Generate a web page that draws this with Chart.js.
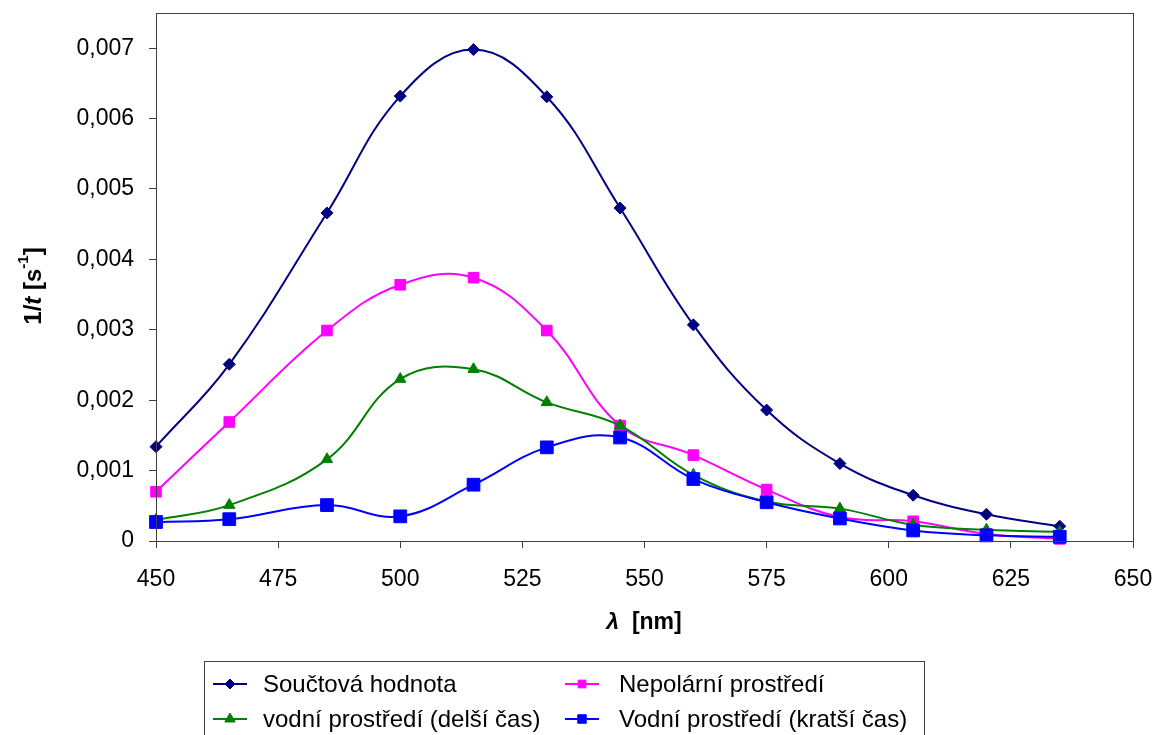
<!DOCTYPE html>
<html>
<head>
<meta charset="utf-8">
<style>
  html, body { margin: 0; padding: 0; background: #fff; }
  #wrap { width: 1160px; height: 735px; position: relative; }
</style>
<script src="https://cdn.jsdelivr.net/npm/chart.js@4/dist/chart.umd.min.js"></script>
</head>
<body>
<div id="wrap"><canvas id="chart" width="1160" height="735"></canvas></div>
<script>
(function() {
    'use strict';

    // Data
    const wavelengths = [450, 465, 485, 500, 515, 530, 545, 560, 575, 590, 605, 620, 635];
    const soucet = [0.00134, 0.00251, 0.00466, 0.00632, 0.00698, 0.00631, 0.00473, 0.00307, 0.00186, 0.00110, 0.00065, 0.00038, 0.00021];
    const nepolarni = [0.00070, 0.00169, 0.00299, 0.00364, 0.00374, 0.00299, 0.00164, 0.00122, 0.00073, 0.00034, 0.00028, 0.00010, 0.00003];
    const vodniDelsi = [0.00030, 0.00051, 0.00116, 0.00230, 0.00244, 0.00197, 0.00164, 0.00094, 0.00056, 0.00046, 0.00023, 0.00016, 0.00013];
    const vodniKratsi = [0.00027, 0.00031, 0.00051, 0.00035, 0.00080, 0.00133, 0.00147, 0.00088, 0.00055, 0.00032, 0.00015, 0.00008, 0.00006];
    const seriesNames = ['Součtová hodnota', 'Nepolární prostředí', 'vodní prostředí (delší čas)', 'Vodní prostředí (kratší čas)'];
    const yTickValues = [0, 0.001, 0.002, 0.003, 0.004, 0.005, 0.006, 0.007];

    const FONT = "'Liberation Sans', Arial, sans-serif";

    function series(label, values, color, style, radius, order) {
        return {
            label: label,
            data: wavelengths.map((x, i) => ({ x: x, y: values[i] })),
            borderColor: color,
            backgroundColor: color,
            borderWidth: 2,
            pointStyle: style,
            pointRadius: radius,
            pointBorderWidth: 1,
            pointBackgroundColor: color,
            pointBorderColor: color,
            showLine: true,
            tension: 0.4,
            clip: false,
            order: order
        };
    }

    const datasets = [
        series(seriesNames[0], soucet, '#000080', 'rectRot', 6, 3),
        series(seriesNames[1], nepolarni, '#ff00ff', 'rect', 7.5, 2),
        series(seriesNames[2], vodniDelsi, '#008000', 'triangle', 6.5, 1),
        series(seriesNames[3], vodniKratsi, '#0000ff', 'rect', 9, 0)
    ];

    // Plot frame, axis titles and the boxed legend
    const decorations = {
        id: 'decorations',
        afterDraw(chart) {
            const ctx = chart.ctx;
            const a = chart.chartArea;

            ctx.save();
            ctx.strokeStyle = '#404040';
            ctx.lineWidth = 1;
            ctx.strokeRect(a.left + 0.5, a.top + 0.5, a.right - a.left, a.bottom - a.top);
            ctx.restore();

            // x title
            ctx.save();
            ctx.fillStyle = '#000';
            ctx.textBaseline = 'middle';
            const lam = 'λ', rest = '  [nm]';
            ctx.font = 'italic bold 23px ' + FONT;
            const w1 = ctx.measureText(lam).width;
            ctx.font = 'bold 23px ' + FONT;
            const w2 = ctx.measureText(rest).width;
            let x0 = 644 - (w1 + w2) / 2;
            ctx.font = 'italic bold 23px ' + FONT;
            ctx.fillText(lam, x0, 623);
            ctx.font = 'bold 23px ' + FONT;
            ctx.fillText(rest, x0 + w1, 623);
            ctx.restore();

            // y title, rotated
            ctx.save();
            ctx.translate(34, 286);
            ctx.rotate(-Math.PI / 2);
            ctx.fillStyle = '#000';
            ctx.textBaseline = 'middle';
            const parts = [
                { t: '1/', f: 'bold 24px ', dy: 0 },
                { t: 't', f: 'italic bold 24px ', dy: 0 },
                { t: ' [s', f: 'bold 24px ', dy: 0 },
                { t: '-1', f: 'bold 15px ', dy: -10 },
                { t: ']', f: 'bold 24px ', dy: 0 }
            ];
            let total = 0;
            parts.forEach(p => { ctx.font = p.f + FONT; p.w = ctx.measureText(p.t).width; total += p.w; });
            let u = -total / 2;
            parts.forEach(p => { ctx.font = p.f + FONT; ctx.fillText(p.t, u, p.dy); u += p.w; });
            ctx.restore();

            // legend box
            ctx.save();
            ctx.strokeStyle = '#404040';
            ctx.lineWidth = 1;
            ctx.strokeRect(204.5, 661.5, 720, 80);
            const slots = [
                { lx: 213, tx: 263, y: 684 },
                { lx: 565, tx: 619, y: 684 },
                { lx: 213, tx: 263, y: 719 },
                { lx: 565, tx: 619, y: 719 }
            ];
            const legendRadius = [5, 5.5, 6, 6];
            datasets.forEach((ds, i) => {
                const s = slots[i];
                ctx.strokeStyle = ds.borderColor;
                ctx.fillStyle = ds.borderColor;
                ctx.lineWidth = 2;
                ctx.beginPath();
                ctx.moveTo(s.lx, s.y);
                ctx.lineTo(s.lx + 34, s.y);
                ctx.stroke();
                ctx.lineWidth = 1;
                Chart.helpers.drawPoint(ctx, { pointStyle: ds.pointStyle, radius: legendRadius[i], rotation: 0, borderWidth: 1 }, s.lx + 17, s.y);
                ctx.fillStyle = '#000';
                ctx.font = '24px ' + FONT;
                ctx.textBaseline = 'middle';
                ctx.fillText(ds.label, s.tx, s.y + 1);
            });
            ctx.restore();
        }
    };

    new Chart(document.getElementById('chart'), {
        type: 'scatter',
        data: { datasets: datasets },
        plugins: [decorations],
        options: {
            responsive: false,
            animation: false,
            devicePixelRatio: 1,
            layout: { padding: { top: 13, right: 27, left: 0, bottom: 0 } },
            plugins: {
                legend: { display: false },
                tooltip: { enabled: false }
            },
            scales: {
                x: {
                    type: 'linear',
                    min: 450,
                    max: 650,
                    afterFit: function(scale) {
                        scale.height = 194;
                        scale.paddingLeft = 0;
                        scale.paddingRight = 0;
                    },
                    ticks: {
                        stepSize: 25,
                        padding: 18,
                        color: '#000',
                        font: { family: FONT, size: 23 }
                    },
                    grid: { drawOnChartArea: false, drawTicks: true, tickLength: 7, color: '#404040' },
                    border: { display: true, color: '#000', width: 1 }
                },
                y: {
                    type: 'linear',
                    min: 0,
                    max: 0.0075,
                    afterBuildTicks: function(scale) {
                        scale.ticks = yTickValues.map(v => ({ value: v }));
                    },
                    afterFit: function(scale) {
                        scale.width = 156;
                        scale.paddingTop = 0;
                        scale.paddingBottom = 0;
                    },
                    ticks: {
                        padding: 15,
                        color: '#000',
                        font: { family: FONT, size: 23 },
                        callback: function(value) {
                            return value === 0 ? '0' : value.toFixed(3).replace('.', ',');
                        }
                    },
                    grid: { drawOnChartArea: false, drawTicks: true, tickLength: 7, color: '#404040' },
                    border: { display: true, color: '#000', width: 1 }
                }
            }
        }
    });
})();
</script>
</body>
</html>
